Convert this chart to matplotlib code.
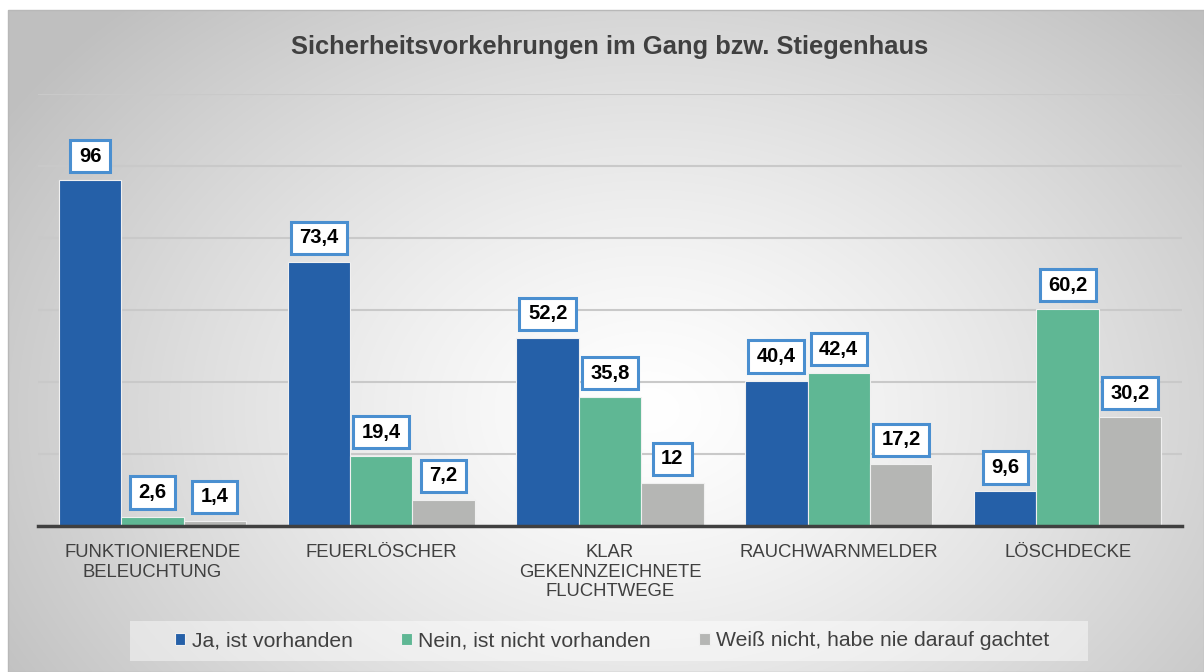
import numpy as np
import matplotlib
matplotlib.use("Agg")
import matplotlib.pyplot as plt
from matplotlib.patches import Rectangle
from matplotlib.path import Path

plt.rcParams['font.family'] = ['Liberation Sans', 'DejaVu Sans']

categories = ["FUNKTIONIERENDE\nBELEUCHTUNG", "FEUERLÖSCHER",
              "KLAR\nGEKENNZEICHNETE\nFLUCHTWEGE", "RAUCHWARNMELDER", "LÖSCHDECKE"]
series_names = ["Ja, ist vorhanden", "Nein, ist nicht vorhanden",
                "Weiß nicht, habe nie darauf gachtet"]
ja = [96, 73.4, 52.2, 40.4, 9.6]
nein = [2.6, 19.4, 35.8, 42.4, 60.2]
weiss = [1.4, 7.2, 12, 17.2, 30.2]
colors = ["#2560a8", "#5fb794", "#b5b6b4"]

W, H = 1204, 672


def label_box(x0, y0, width, height, mutation_size):
    # wider horizontal padding than vertical, like the data callouts
    px, py = 0.42 * mutation_size, 0.33 * mutation_size
    x0, y0 = x0 - px, y0 - py
    x1, y1 = x0 + width + 2 * px, y0 + height + 2 * py
    return Path([(x0, y0), (x1, y0), (x1, y1), (x0, y1), (x0, y0)], closed=True)


fig = plt.figure(figsize=(W / 100, H / 100), dpi=100)
fig.patch.set_facecolor("white")

# radial gradient background of the chart area
bg = fig.add_axes([8 / W, 0, 1 - 8 / W, 662 / H], zorder=0)
yy, xx = np.mgrid[0:662, 0:1196]
cx, cy = 640, 400
d = np.sqrt(((xx - cx) / 760) ** 2 + ((yy - cy) / 560) ** 2)
g = 1.0 - 0.25 * np.clip(d, 0, 1) ** 1.3
bg.imshow(np.dstack([g, g, g]), aspect="auto", extent=[0, 1, 0, 1], origin="upper")
bg.set_axis_off()
fig.add_artist(Rectangle((8 / W, 0), 1 - 8 / W, 662 / H, transform=fig.transFigure,
                         fill=False, edgecolor="#b8b8b8", linewidth=1, zorder=1))

ax = fig.add_axes([38 / W, 1 - 526 / H, (1182 - 38) / W, (526 - 94) / H], zorder=2)
ax.set_facecolor("none")
x = np.arange(len(categories))
bw = 0.2727
for i, (vals, c, name) in enumerate(zip([ja, nein, weiss], colors, series_names)):
    pos = x + (i - 1) * bw
    ax.bar(pos, vals, width=bw, color=c, edgecolor="#f0f0f0", linewidth=0.8,
           label=name, zorder=3)
    for p, v in zip(pos, vals):
        txt = f"{v:g}".replace(".", ",")
        ax.annotate(txt, xy=(p, v), xytext=(0, 10.5), textcoords="offset points",
                    ha="center", va="bottom", fontsize=14.5, fontweight="bold",
                    color="black", zorder=5,
                    bbox=dict(boxstyle=label_box, facecolor="white",
                              edgecolor="#4a8fd0", linewidth=2.2))

ax.set_xlim(-0.5, len(categories) - 0.5)
ax.set_ylim(0, 120)
ax.set_yticks([20, 40, 60, 80, 100, 120])
ax.yaxis.grid(True, color="#c9c9c9", linewidth=1.5, zorder=1)
ax.set_axisbelow(True)
ax.tick_params(axis="y", left=False, labelleft=False)
ax.set_xticks(x)
ax.set_xticklabels(categories, fontsize=13.3, color="#404040", linespacing=1.2)
ax.tick_params(axis="x", length=0, pad=13)
for s in ["top", "right", "left"]:
    ax.spines[s].set_visible(False)
ax.spines["bottom"].set_color("#404040")
ax.spines["bottom"].set_linewidth(2.5)
ax.spines["bottom"].set_zorder(4)

fig.text(610 / W, 1 - 47 / H, "Sicherheitsvorkehrungen im Gang bzw. Stiegenhaus",
         ha="center", va="center", fontsize=18.4, fontweight="bold", color="#404040")

# legend
fig.add_artist(Rectangle((130 / W, 1 - 661 / H), (1088 - 130) / W, 40 / H,
                         transform=fig.transFigure, facecolor="white", alpha=0.45,
                         edgecolor="none", zorder=1))
leg = fig.legend(loc="center", bbox_to_anchor=(612 / W, 1 - 641 / H), ncol=3,
                 frameon=False, fontsize=15.2, handlelength=0.5, handleheight=0.5,
                 handletextpad=0.3, columnspacing=2.3)
for t in leg.get_texts():
    t.set_color("#404040")

fig.savefig("out.png", dpi=100)
